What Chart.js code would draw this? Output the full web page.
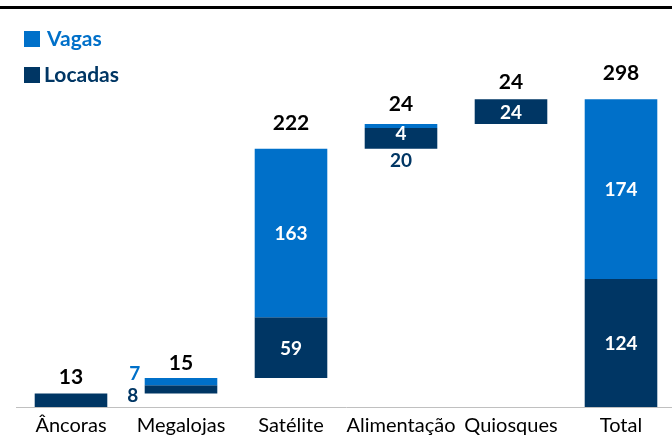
<!DOCTYPE html>
<html>
<head>
<meta charset="utf-8">
<script src="https://cdn.jsdelivr.net/npm/chart.js@4"></script>
<style>
  html, body { margin: 0; padding: 0; background: #ffffff; overflow: hidden; width: 672px; height: 437px; }
  #wrap { position: relative; width: 676px; height: 437px; }
</style>
</head>
<body>
<div id="wrap"><canvas id="c" width="676" height="437"></canvas></div>
<script>
// ---- data ----
const categories = ['Âncoras', 'Megalojas', 'Satélite', 'Alimentação', 'Quiosques', 'Total'];
const locadas = [13, 8, 59, 20, 24, 124];
const vagas = [0, 7, 163, 4, 0, 174];
const totals = [13, 15, 222, 24, 24, 298];
const isTotalColumn = [false, false, false, false, false, true];
const seriesNames = ['Vagas', 'Locadas'];

// waterfall bases built from the values
const bases = [];
let running = 0;
for (let i = 0; i < categories.length; i++) {
  if (isTotalColumn[i]) { bases.push(0); }
  else { bases.push(running); running += locadas[i] + vagas[i]; }
}
const locadasRanges = locadas.map((v, i) => [bases[i], bases[i] + v]);
const vagasRanges = vagas.map((v, i) => [bases[i] + locadas[i], bases[i] + locadas[i] + v]);

const COL_VAGAS = '#0070C9';
const COL_LOCADAS = '#003664';
const FONT = 'Lato, "Open Sans", sans-serif';

// label placement styles per category
const locadasLabelMode = ['none', 'left', 'in', 'below', 'in', 'in'];
const vagasLabelMode = ['none', 'left', 'in', 'inBar', 'none', 'in'];
const totalOffset = [16, 15, 26, 20, 17, 26];

const labelPlugin = {
  id: 'labels',
  beforeDraw(chart) {
    const ctx = chart.ctx;
    ctx.save();
    ctx.fillStyle = '#000';
    ctx.fillRect(0, 6, 676, 3);
    const items = [
      { t: seriesNames[0], c: COL_VAGAS, y: 39, tx: 47 },
      { t: seriesNames[1], c: COL_LOCADAS, y: 75, tx: 44 }
    ];
    ctx.font = 'bold 21px ' + FONT;
    ctx.textBaseline = 'middle';
    ctx.textAlign = 'left';
    items.forEach(it => {
      ctx.fillStyle = it.c;
      ctx.fillRect(24, it.y - 8, 16, 16);
      ctx.fillText(it.t, it.tx, it.y);
    });
    ctx.restore();
  },
  afterDatasetsDraw(chart) {
    const ctx = chart.ctx;
    const mV = chart.getDatasetMeta(0);
    const mL = chart.getDatasetMeta(1);
    ctx.save();
    ctx.textAlign = 'center';
    ctx.textBaseline = 'middle';
    for (let i = 0; i < categories.length; i++) {
      const eL = mL.data[i], eV = mV.data[i];
      const x = eL.x;
      const half = eL.width / 2;
      const topAll = Math.min(eV.y, eV.base, eL.y);
      const botAll = Math.max(eL.base, eL.y);
      ctx.font = 'bold 21px ' + FONT;
      ctx.fillStyle = '#000';
      ctx.fillText(String(totals[i]), x, topAll - totalOffset[i]);
      ctx.font = 'bold 19px ' + FONT;
      const lm = locadasLabelMode[i];
      if (lm === 'in') {
        ctx.fillStyle = '#fff';
        ctx.fillText(String(locadas[i]), x, (eL.y + eL.base) / 2 + 1);
      } else if (lm === 'left') {
        ctx.fillStyle = COL_LOCADAS;
        ctx.fillText(String(locadas[i]), x - half - 12, eL.base + 2);
      } else if (lm === 'below') {
        ctx.fillStyle = COL_LOCADAS;
        ctx.fillText(String(locadas[i]), x, botAll + 12);
      }
      const vm = vagasLabelMode[i];
      if (vm === 'in') {
        ctx.fillStyle = '#fff';
        ctx.fillText(String(vagas[i]), x, (eV.y + eV.base) / 2 + 1);
      } else if (vm === 'left') {
        ctx.fillStyle = COL_VAGAS;
        ctx.fillText(String(vagas[i]), x - half - 10, eV.y - 4);
      } else if (vm === 'inBar') {
        ctx.fillStyle = '#fff';
        ctx.fillText(String(vagas[i]), x, eV.y + 10);
      }
    }
    ctx.restore();
  }
};

new Chart(document.getElementById('c'), {
  type: 'bar',
  data: {
    labels: categories,
    datasets: [
      { label: seriesNames[0], data: vagasRanges, backgroundColor: COL_VAGAS, grouped: false,
        borderWidth: 0, borderSkipped: false, barPercentage: 0.66, categoryPercentage: 1 },
      { label: seriesNames[1], data: locadasRanges, backgroundColor: COL_LOCADAS, grouped: false,
        borderWidth: 0, borderSkipped: false, barPercentage: 0.66, categoryPercentage: 1 }
    ]
  },
  options: {
    responsive: false,
    animation: false,
    layout: { padding: { top: 30, left: 16, right: 0, bottom: 0 } },
    plugins: { legend: { display: false }, tooltip: { enabled: false } },
    scales: {
      y: { display: false, min: 0, max: 365 },
      x: {
        afterFit(scale) { scale.height = 30; },
        grid: { display: false, drawTicks: false },
        border: { display: true, color: '#c0c0c0', width: 1 },
        ticks: { color: '#000', padding: 7, font: { family: FONT, size: 20 }, maxRotation: 0, autoSkip: false }
      }
    }
  },
  plugins: [labelPlugin]
});
</script>
</body>
</html>
